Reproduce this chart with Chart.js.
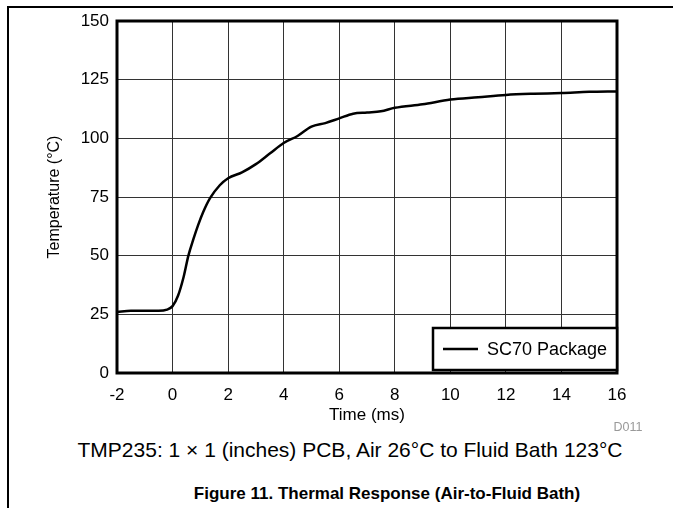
<!DOCTYPE html>
<html>
<head>
<meta charset="utf-8">
<script src="https://cdn.jsdelivr.net/npm/chart.js@4.4.1/dist/chart.umd.min.js"></script>
<style>
  body { margin: 0; background: #fff; font-family: "Liberation Sans", Arial, sans-serif; }
  #page { position: relative; width: 673px; height: 508px; overflow: hidden; }
  #wrap { position: absolute; left: 0; top: 0; width: 673px; height: 426px; }
  .frameTop { position: absolute; left: 8px; top: 6px; width: 665px; height: 2px; background: #000; }
  .frameLeft { position: absolute; left: 7px; top: 6px; width: 2px; height: 502px; background: #000; }
  .txt { position: absolute; white-space: nowrap; transform: translate(-50%, -50%); }
</style>
</head>
<body>
<div id="page">
  <div class="frameTop"></div>
  <div class="frameLeft"></div>
  <div id="wrap"><canvas id="thermalChart"></canvas></div>
  <div class="txt" style="left:628px; top:427px; font-size:12.5px; color:#999;">D011</div>
  <div class="txt" style="left:350px; top:450px; font-size:21px; color:#000;">TMP235: 1 × 1 (inches) PCB, Air 26°C to Fluid Bath 123°C</div>
  <div class="txt" style="left:387px; top:494px; font-size:17px; font-weight:bold; color:#000;">Figure 11. Thermal Response (Air-to-Fluid Bath)</div>
</div>
<script>
// time in ms, temperature in degC
const timeMs = [-2, -1.5, -1, -0.5, -0.2, 0, 0.2, 0.4, 0.57, 0.75, 0.92, 1.1, 1.35, 1.7, 2, 2.5, 3, 3.5, 4, 4.5, 5, 5.5, 6, 6.5, 7, 7.5, 8, 9, 10, 11, 12, 13, 14, 15, 16];
const tempC = [26, 26.5, 26.5, 26.5, 27, 28.5, 33, 41, 50, 57, 63, 68.5, 74.5, 80, 83, 85.5, 89, 93.5, 98, 101, 105, 106.5, 108.5, 110.5, 111, 111.5, 113, 114.5, 116.5, 117.5, 118.5, 119, 119.3, 119.8, 120];
const seriesLabel = 'SC70 Package';
const xTicks = [-2, 0, 2, 4, 6, 8, 10, 12, 14, 16];
const yTicks = [0, 25, 50, 75, 100, 125, 150];

const fontFamily = '"Liberation Sans", Arial, sans-serif';

// frame around the plot + legend box in the lower right corner
const frameAndLegend = {
  id: 'frameAndLegend',
  afterDatasetsDraw(chart) {
    const { ctx, chartArea: a } = chart;
    ctx.save();
    ctx.strokeStyle = '#000';
    ctx.lineWidth = 3;
    ctx.strokeRect(a.left, a.top, a.right - a.left, a.bottom - a.top);

    const w = 184, h = 42;
    const x = a.right - w, y = a.bottom - 3 - h;
    ctx.fillStyle = '#fff';
    ctx.fillRect(x, y, w, h);
    ctx.lineWidth = 2.5;
    ctx.strokeRect(x, y, w, h);

    const ds = chart.data.datasets[0];
    ctx.beginPath();
    ctx.moveTo(x + 10, y + h / 2);
    ctx.lineTo(x + 45, y + h / 2);
    ctx.lineWidth = ds.borderWidth;
    ctx.strokeStyle = ds.borderColor;
    ctx.stroke();

    ctx.fillStyle = '#000';
    ctx.font = '18px ' + fontFamily;
    ctx.textBaseline = 'middle';
    ctx.fillText(ds.label, x + 54, y + h / 2 + 1);
    ctx.restore();
  }
};

new Chart(document.getElementById('thermalChart'), {
  type: 'line',
  data: {
    datasets: [{
      label: seriesLabel,
      data: timeMs.map((t, i) => ({ x: t, y: tempC[i] })),
      borderColor: '#000',
      borderWidth: 2.5,
      pointRadius: 0,
      cubicInterpolationMode: 'monotone',
      fill: false
    }]
  },
  options: {
    responsive: true,
    maintainAspectRatio: false,
    animation: false,
    layout: { padding: { top: 21, right: 56, left: 0, bottom: 0 } },
    plugins: { legend: { display: false }, tooltip: { enabled: false } },
    scales: {
      x: {
        type: 'linear',
        min: -2,
        max: 16,
        afterBuildTicks: (s) => { s.ticks = xTicks.map(v => ({ value: v })); },
        afterFit: (s) => { s.height = 53; },
        grid: { color: '#333', lineWidth: 1, drawTicks: false },
        border: { display: false },
        ticks: { color: '#000', padding: 12.5, font: { size: 17, family: fontFamily } },
        title: { display: true, text: 'Time (ms)', color: '#000', padding: 0, font: { size: 17, family: fontFamily } }
      },
      y: {
        min: 0,
        max: 150,
        afterBuildTicks: (s) => { s.ticks = yTicks.map(v => ({ value: v })); },
        afterFit: (s) => { s.width = 117; },
        grid: { color: '#333', lineWidth: 1, drawTicks: false },
        border: { display: false },
        ticks: { color: '#000', padding: 8, font: { size: 17, family: fontFamily } },
        title: { display: true, text: 'Temperature (°C)', color: '#000', padding: { top: 45, bottom: 0 }, font: { size: 16, family: fontFamily } }
      }
    }
  },
  plugins: [frameAndLegend]
});
</script>
</body>
</html>
